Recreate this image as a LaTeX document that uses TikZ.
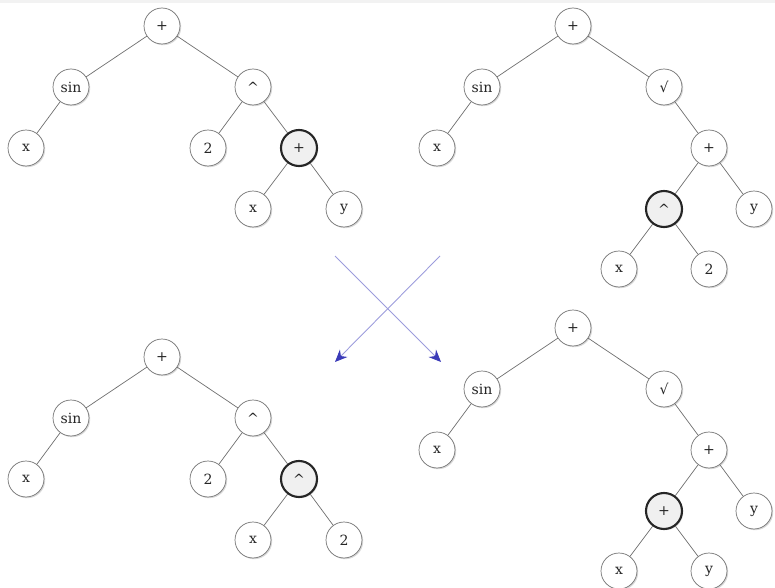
\documentclass[tikz,border=0pt]{standalone}
\usepackage{fontspec}
\setmainfont{DejaVu Serif}
\usetikzlibrary{shadows, arrows.meta}
\definecolor{myedge}{HTML}{6E6E6E}
\definecolor{myline}{HTML}{9C9CDC}
\definecolor{mytip}{HTML}{3A3AB8}
\definecolor{mystrip}{HTML}{F2F2F2}

\begin{document}
\begin{tikzpicture}[
    x=0.02cm, y=-0.02cm,
    every node/.style={font=\footnotesize, text=black!85},
    op/.style={circle, draw=black!55, fill=white, minimum size=0.72cm, inner sep=0pt,
        drop shadow={opacity=0.3, shadow xshift=0.7pt, shadow yshift=-0.7pt}},
    picked/.style={op, draw=black!85, very thick, fill=black!6},
    edge/.style={draw=myedge, thin},
    swap/.style={draw=myline, line width=0.5pt, -{Stealth[length=7pt, width=6pt, color=mytip, fill=mytip]}}
]

    % --- frame ---
    \useasboundingbox (0,0) rectangle (775,588);
    \fill[mystrip] (0,0) rectangle (775,3);

    % --- tree with the sub-expression on the right of ^ ---
    \def\leftTree#1#2#3#4{
        \node[op] (#1r) at (0,0) {+};
        \node[op] (#1l) at (-91,61) {sin};
        \node[op] (#1p) at (91,61) {\^{}};
        \node[op] (#1x) at (-136,122) {x};
        \node[op] (#1t) at (46,122) {2};
        \node[picked] (#1s) at (137,122) {#2};
        \node[op] (#1a) at (91,183) {#3};
        \node[op] (#1b) at (182,183) {#4};
        \foreach \p/\c in {r/l, r/p, l/x, p/t, p/s, s/a, s/b}
            \draw[edge] (#1\p) -- (#1\c);
    }

    % --- tree with the sub-expression under the root ---
    \def\rightTree#1#2#3#4{
        \node[op] (#1r) at (0,0) {+};
        \node[op] (#1l) at (-91,61) {sin};
        \node[op] (#1q) at (91,61) {√};
        \node[op] (#1x) at (-136,122) {x};
        \node[op] (#1p) at (136,122) {+};
        \node[picked] (#1s) at (91,183) {#2};
        \node[op] (#1y) at (181,183) {y};
        \node[op] (#1a) at (46,243) {#3};
        \node[op] (#1b) at (136,243) {#4};
        \foreach \p/\c in {r/l, r/q, l/x, q/p, p/s, p/y, s/a, s/b}
            \draw[edge] (#1\p) -- (#1\c);
    }

    % parents
    \begin{scope}[shift={(162,26)}]
        \leftTree{a}{+}{x}{y}
    \end{scope}
    \begin{scope}[shift={(573,26)}]
        \rightTree{b}{\^{}}{x}{2}
    \end{scope}

    % offspring
    \begin{scope}[shift={(162,357)}]
        \leftTree{c}{\^{}}{x}{2}
    \end{scope}
    \begin{scope}[shift={(573,328)}]
        \rightTree{d}{+}{x}{y}
    \end{scope}

    % crossover arrows
    \coordinate (s1) at (335,256);
    \coordinate (e1) at (441,362);
    \coordinate (s2) at (440,256);
    \coordinate (e2) at (335,362);
    \draw[swap] (s1) -- (e1);
    \draw[swap] (s2) -- (e2);

\end{tikzpicture}
\end{document}
